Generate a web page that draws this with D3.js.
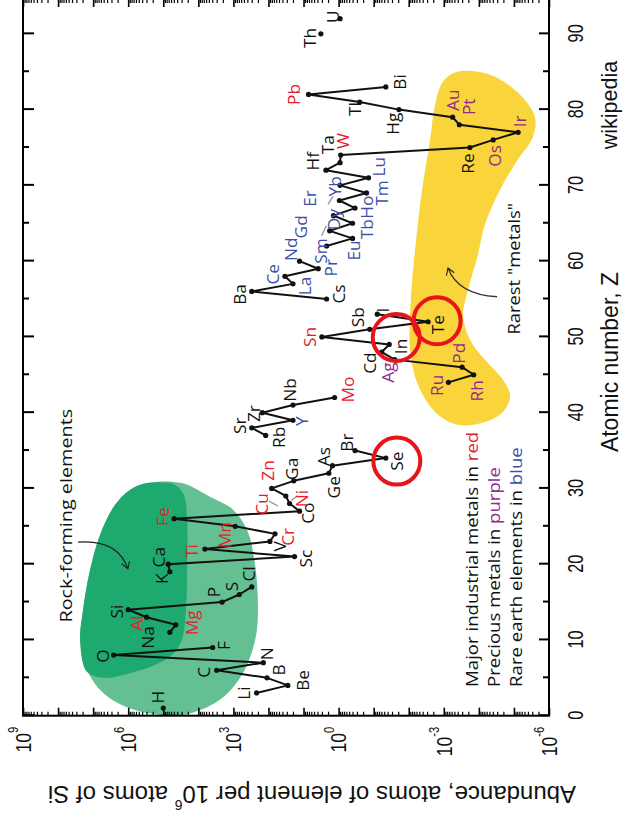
<!DOCTYPE html>
<html>
<head>
<meta charset="utf-8">
<script src="https://cdn.jsdelivr.net/npm/d3@7"></script>
<style>
  body { margin: 0; background: #fff; }
  svg { display: block; }
</style>
</head>
<body>
<svg id="chart" width="625" height="817"></svg>
<script>
// ---------- data: crustal abundance, atoms per 10^6 atoms of Si ----------
const symbols = ["H","Li","Be","B","C","N","O","F","Na","Mg","Al","Si","P","S","Cl","K","Ca","Sc","Ti","V","Cr","Mn","Fe","Co","Ni","Cu","Zn","Ga","Ge","As","Se","Br","Rb","Sr","Y","Zr","Nb","Mo","Ru","Rh","Pd","Ag","Cd","In","Sn","Sb","Te","I","Cs","Ba","La","Ce","Pr","Nd","Sm","Eu","Gd","Tb","Dy","Ho","Er","Tm","Yb","Lu","Hf","Ta","W","Re","Os","Ir","Pt","Au","Hg","Tl","Pb","Bi","Th","U"];
const atomicNumber = [1,3,4,5,6,7,8,9,11,12,13,14,15,16,17,19,20,21,22,23,24,25,26,27,28,29,30,31,32,33,34,35,37,38,39,40,41,42,44,45,46,47,48,49,50,51,52,53,55,56,57,58,59,60,62,63,64,65,66,67,68,69,70,71,72,73,74,75,76,77,78,79,80,81,82,83,90,92];
const abundance = [1.0e5,220,28,110,3000,140,2.6e6,3900,6.5e4,4.4e4,3.0e5,1.0e6,2100,680,300,6.5e4,7.2e4,18,6500,91,65,890,4.9e4,13,25,32,81,19,1.9,1.5,0.045,0.34,120,300,20,150,20,1.3,7.4e-4,1.4e-4,3.0e-4,0.025,0.059,0.036,3.0,0.13,2.8e-3,0.079,2.2,300,20,34,3.8,13,2.2,0.40,1.8,0.40,1.4,0.34,0.95,0.16,0.91,0.14,2.3,0.91,0.87,1.8e-4,3.9e-5,7.6e-6,3.6e-4,5.6e-4,0.019,0.25,7.2,0.045,3.2,0.91];

const industrialMetals = ["Mg","Al","Ti","Cr","Mn","Fe","Ni","Cu","Zn","Mo","Sn","W","Pb"];
const preciousMetals = ["Ru","Rh","Pd","Ag","Os","Ir","Pt","Au"];
const rareEarths = ["Y","La","Ce","Pr","Nd","Sm","Eu","Gd","Tb","Dy","Ho","Er","Tm","Yb","Lu"];
const circledElements = ["Se","In","Te"];

const zTicks = [0,10,20,30,40,50,60,70,80,90];
const zMinorTicks = [5,15,25,35,45,55,65,75,85];
const abundanceExponents = [9,6,3,0,-3,-6];

const legendLines = [
  ["Major industrial metals in ", "red", "industrial"],
  ["Precious metals in ", "purple", "precious"],
  ["Rare earth elements in ", "blue", "rare"]
];

// shaded regions, as [atomic number, log10 abundance]
const rockForming = [[30.7,5.46],[30.7,4.47],[28.9,3.67],[27.2,3.01],[24.5,2.61],[19.9,2.38],[13.6,2.30],[10.0,2.38],[5.6,2.73],[2.3,3.33],[0.3,4.24],[0.1,5.09],[1.2,6.09],[3.4,6.80],[6.7,7.23],[10.0,7.37],[13.9,7.29],[19.2,7.09],[23.9,6.80],[27.8,6.38],[29.8,5.95]];
const rockFormingCore = [[30.7,5.46],[30.5,4.67],[29.1,4.41],[25.8,4.32],[19.2,4.32],[14.0,4.35],[10.0,4.47],[8.0,4.75],[6.7,5.24],[5.6,5.95],[5.0,6.66],[5.8,7.18],[10.0,7.37],[13.9,7.29],[19.2,7.09],[23.9,6.80],[27.8,6.38],[29.8,5.95]];
const rarestMetals = [[85.0,-3.38],[84.6,-4.32],[82.0,-5.17],[79.0,-5.60],[76.4,-5.54],[73.4,-5.11],[69.4,-4.60],[64.8,-4.17],[60.8,-3.97],[56.2,-3.69],[52.9,-3.55],[49.6,-3.75],[47.0,-4.17],[44.3,-4.69],[42.3,-4.89],[40.4,-4.74],[38.9,-4.26],[38.4,-3.40],[40.1,-2.75],[43.7,-2.26],[48.3,-2.04],[54.9,-2.06],[61.5,-2.18],[69.4,-2.38],[76.0,-2.61],[80.6,-2.75],[83.7,-2.98]];

// ---------- layout ----------
const W = 625, H = 817;
const colors = { industrial: "#e3212b", precious: "#8f2b8e", rare: "#3d4fa6", plain: "#111" };

// label placement relative to its point, in screen pixels (right, down)
const labelOffset = {
  H:[-6,-11], Li:[-13,0], Be:[15,-5], B:[12,-8], C:[-13,2], N:[3,-9], O:[-11,1], F:[11,-2],
  Na:[-22,5], Mg:[16,-2], Al:[-10,6], Si:[-11,2], P:[-8,-10], S:[-8,-8], Cl:[-3,-13],
  K:[-8,7], Ca:[-10,-7], Sc:[11,2], Ti:[-13,2], V:[10,5], Cr:[13,3], Mn:[-10,9], Fe:[-11,-2],
  Co:[8,2], Ni:[12,-5], Cu:[-24,8], Zn:[-4,-18], Ga:[-2,-12], Ge:[5,14], As:[-9,-9], Se:[11,3], Br:[-8,-8],
  Rb:[13,2], Sr:[-12,-2], Y:[9,1], Zr:[-9,1], Nb:[-3,-15], Mo:[13,-8],
  Ru:[-12,3], Rh:[3,16], Pd:[-3,-14], Ag:[-7,13], Cd:[-12,11], In:[12,2], Sn:[-12,0], Sb:[-12,-12], Te:[10,3], I:[5,-4],
  Cs:[12,-5], Ba:[-12,3], La:[12,2], Ce:[-12,-2], Pr:[12,-1], Nd:[-9,-12],
  Sm:[-6,5], Eu:[1,12], Gd:[-29,-4], Tb:[14,6], Dy:[0,4], Ho:[12,-1], Er:[-30,-2], Tm:[15,0], Yb:[-5,1], Lu:[10,-11],
  Hf:[-13,-9], Ta:[-12,-18], W:[2,-14], Re:[-2,16], Os:[2,16], Ir:[2,-11], Pt:[9,-18], Au:[0,-17],
  Hg:[-6,14], Tl:[-5,7], Pb:[-15,0], Bi:[14,-5], Th:[-11,4], U:[-7,-2]
};
// short grey pointers between crowded labels, screen pixels from the element's point
const leaders = {
  Cu:[[-17,5],[-8,10]], Ni:[[2,-3],[8,-8]],
  Dy:[[-12,20],[-7,10]], Yb:[[-12,19],[-7,11]]
};
const circleOffset = { Se:[11,3], In:[7,-7], Te:[9,-1] };

const svg = d3.select("#chart");
// the plot is built with atomic number running left-to-right, then turned a quarter turn
const g = svg.append("g").attr("transform", `translate(0,${H}) rotate(-90)`);

const x = d3.scaleLinear().domain([0, 94.6]).range([101.3, 818]);
const y = d3.scaleLog().domain([1e9, 1e-6]).range([23, 549]);
const yE = e => y(Math.pow(10, e));
const screen = (dx, dy) => [-dy, dx];   // screen offset -> plot offset

const elements = symbols.map((s, i) => ({
  sym: s, z: atomicNumber[i], v: abundance[i],
  group: industrialMetals.includes(s) ? "industrial" : preciousMetals.includes(s) ? "precious" : rareEarths.includes(s) ? "rare" : "plain"
}));

// ---------- shaded regions ----------
const blob = d3.line().x(d => x(d[0])).y(d => yE(d[1])).curve(d3.curveCatmullRomClosed.alpha(0.5));
g.append("path").attr("d", blob(rockForming)).attr("fill", "#64c093");
g.append("path").attr("d", blob(rockFormingCore)).attr("fill", "#1ea96f");
g.append("path").attr("d", blob(rarestMetals)).attr("fill", "#f9d43b");

// ---------- axes ----------
const axisFont = "'Liberation Sans', Arial, sans-serif";
// atomic number axis (bottom of plot)
const zAxis = g.append("g").attr("transform", `translate(0,${y(1e-6)})`)
  .call(d3.axisBottom(x).tickValues(zTicks).tickSize(-10).tickPadding(18));
zAxis.call(s => s.select(".domain").remove());
zAxis.selectAll("line").attr("stroke-width", 2);
zAxis.selectAll("text").attr("font-family", axisFont).attr("font-size", 22)
  .attr("fill", "#111").attr("transform", "scale(0.74,1)");
g.append("g").attr("transform", `translate(0,${y(1e-6)})`)
  .call(d3.axisBottom(x).tickValues(zMinorTicks).tickSize(-6).tickFormat(""))
  .call(s => s.select(".domain").remove()).selectAll("line").attr("stroke-width", 2);
// mirrored ticks on the opposite edge
g.append("g").attr("transform", `translate(0,${y(1e9)})`)
  .call(d3.axisTop(x).tickValues(zTicks).tickSize(-11).tickFormat(""))
  .call(s => s.select(".domain").remove()).selectAll("line").attr("stroke-width", 2);
g.append("g").attr("transform", `translate(0,${y(1e9)})`)
  .call(d3.axisTop(x).tickValues(zMinorTicks).tickSize(-6).tickFormat(""))
  .call(s => s.select(".domain").remove()).selectAll("line").attr("stroke-width", 2);

// abundance axis: decade ticks and minor ticks
const decades = d3.range(-6, 10).map(e => Math.pow(10, e));
const minors = [];
d3.range(-6, 9).forEach(e => d3.range(2, 10).forEach(m => minors.push(m * Math.pow(10, e))));
[[x(0), d3.axisLeft], [x(94.6), d3.axisRight]].forEach(([pos, axisFn]) => {
  g.append("g").attr("transform", `translate(${pos},0)`)
    .call(axisFn(y).tickValues(decades).tickSize(-8).tickFormat(""))
    .call(s => s.select(".domain").remove()).selectAll("line").attr("stroke-width", 1.6);
  g.append("g").attr("transform", `translate(${pos},0)`)
    .call(axisFn(y).tickValues(minors).tickSize(-4).tickFormat(""))
    .call(s => s.select(".domain").remove()).selectAll("line").attr("stroke-width", 1.2);
});
// decade labels 10^n
const expLabels = g.append("g").selectAll("text").data(abundanceExponents).join("text")
  .attr("transform", e => `translate(${x(0) - 11},${yE(e)}) scale(0.8,1)`)
  .attr("text-anchor", "end").attr("dominant-baseline", "central")
  .attr("font-family", axisFont).attr("font-size", 22).attr("fill", "#111");
expLabels.append("tspan").text("10");
expLabels.append("tspan").attr("font-size", 14).attr("dy", -9).text(e => e < 0 ? "-" + (-e) : e);

// frame
g.append("rect").attr("x", x(0)).attr("y", y(1e9)).attr("width", x(94.6) - x(0)).attr("height", y(1e-6) - y(1e9))
  .attr("fill", "none").attr("stroke", "#000").attr("stroke-width", 2);

// axis titles
const yt = g.append("text").attr("transform", `translate(22,312) rotate(-90)`)
  .attr("text-anchor", "middle").attr("dominant-baseline", "central")
  .attr("font-family", axisFont).attr("font-size", 24).attr("fill", "#111");
yt.append("tspan").text("Abundance, atoms of element per 10");
yt.append("tspan").attr("font-size", 14).attr("dy", -10).text("6");
yt.append("tspan").attr("dy", 10).text(" atoms of Si");
g.append("text").attr("transform", `translate(455,610)`).attr("text-anchor", "middle").attr("dominant-baseline", "central")
  .attr("font-family", axisFont).attr("font-size", 23).attr("fill", "#111").text("Atomic number, Z");
g.append("text").attr("transform", `translate(712,610)`).attr("text-anchor", "middle").attr("dominant-baseline", "central")
  .attr("font-family", axisFont).attr("font-size", 21.5).attr("fill", "#111").text("wikipedia");

// ---------- abundance trace, broken where an element is missing ----------
const runs = [];
elements.forEach((d, i) => {
  if (i === 0 || d.z - elements[i - 1].z > 1) runs.push([]);
  runs[runs.length - 1].push(d);
});
const trace = d3.line().x(d => x(d.z)).y(d => y(d.v));
g.append("g").selectAll("path").data(runs.filter(r => r.length > 1)).join("path")
  .attr("d", trace).attr("fill", "none").attr("stroke", "#111").attr("stroke-width", 2).attr("stroke-linejoin", "round");
g.append("g").selectAll("circle").data(elements).join("circle")
  .attr("cx", d => x(d.z)).attr("cy", d => y(d.v)).attr("r", 2.6).attr("fill", "#111");

// ---------- element labels ----------
const textFont = "'Open Sans', 'DejaVu Sans', sans-serif";
g.append("g").selectAll("line").data(elements.filter(d => leaders[d.sym])).join("line")
  .each(function (d) {
    const [a, b] = leaders[d.sym].map(p => screen(...p));
    d3.select(this).attr("x1", x(d.z) + a[0]).attr("y1", y(d.v) + a[1])
      .attr("x2", x(d.z) + b[0]).attr("y2", y(d.v) + b[1]);
  })
  .attr("stroke", "#8a8f9a").attr("stroke-width", 1.2);
g.append("g").selectAll("text").data(elements).join("text")
  .attr("transform", d => {
    const [ox, oy] = screen(...labelOffset[d.sym]);
    return `translate(${x(d.z) + ox},${y(d.v) + oy}) scale(1.08,1)`;
  })
  .attr("text-anchor", "middle").attr("dominant-baseline", "central")
  .attr("font-family", textFont).attr("font-size", 16)
  .attr("fill", d => colors[d.group]).text(d => d.sym);

// ---------- annotations ----------
const defs = svg.append("defs");
defs.append("marker").attr("id", "head").attr("viewBox", "-10 -6 12 12").attr("refX", 0).attr("refY", 0)
  .attr("markerWidth", 10).attr("markerHeight", 10).attr("markerUnits", "userSpaceOnUse").attr("orient", "auto")
  .append("path").attr("d", "M-8,-5 L0,0 L-8,5").attr("fill", "none").attr("stroke", "#222").attr("stroke-width", 1.3);

const arrow = (a, c, b) => `M${x(a[0])},${yE(a[1])} Q${x(c[0])},${yE(c[1])} ${x(b[0])},${yE(b[1])}`;
g.append("path").attr("d", arrow([22.9,7.43],[23.3,6.3],[19.4,6.01]))
  .attr("fill", "none").attr("stroke", "#222").attr("stroke-width", 1.3).attr("marker-end", "url(#head)");
g.append("path").attr("d", arrow([55.3,-4.52],[55.6,-3.4],[59.1,-3.12]))
  .attr("fill", "none").attr("stroke", "#333").attr("stroke-width", 1.3).attr("marker-end", "url(#head)");

g.append("text").attr("transform", `translate(${x(26.4)},${yE(7.77)}) scale(1.2,1)`)
  .attr("text-anchor", "middle").attr("dominant-baseline", "central")
  .attr("font-family", textFont).attr("font-size", 16.5).attr("fill", "#111").text("Rock-forming elements");
g.append("text").attr("transform", `translate(${x(59.0)},${yE(-5.0)}) scale(1.15,1)`)
  .attr("text-anchor", "middle").attr("dominant-baseline", "central")
  .attr("font-family", textFont).attr("font-size", 16).attr("fill", "#111").text("Rarest \"metals\"");

// legend
const legend = g.append("g").selectAll("text").data(legendLines).join("text")
  .attr("transform", (d, i) => `translate(${x(3.8)},${478 + 22 * i}) scale(1.2,1)`)
  .attr("font-family", textFont).attr("font-size", 15.5).attr("fill", "#111");
legend.append("tspan").text(d => d[0]);
legend.append("tspan").attr("fill", d => colors[d[2]]).text(d => d[1]);

// red rings around Se, In and Te
g.append("g").selectAll("circle").data(elements.filter(d => circledElements.includes(d.sym))).join("circle")
  .attr("cx", d => x(d.z) + screen(...circleOffset[d.sym])[0])
  .attr("cy", d => y(d.v) + screen(...circleOffset[d.sym])[1])
  .attr("r", 23.5).attr("fill", "none").attr("stroke", "#e8141c").attr("stroke-width", 4);
</script>
</body>
</html>
